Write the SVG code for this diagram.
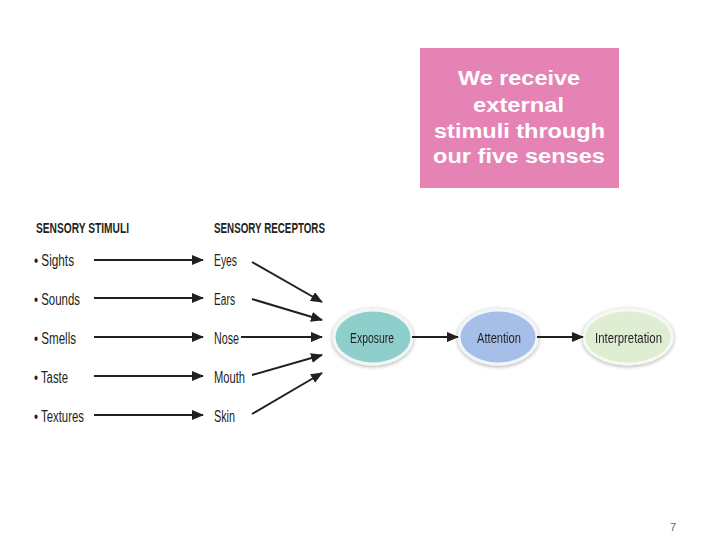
<svg xmlns="http://www.w3.org/2000/svg" width="720" height="540" viewBox="0 0 720 540">
<defs>
<style>
.t{font-family:"Liberation Sans",Arial,sans-serif;font-size:16px;fill:#231f20}
.h{font-family:"Liberation Sans",Arial,sans-serif;font-size:14px;font-weight:bold;fill:#231f20}
.c line{stroke:#231f20;stroke-width:2}
.n{font-family:"Liberation Sans",Arial,sans-serif;font-size:15px;fill:#231f20}
.p{font-family:"Liberation Sans",Arial,sans-serif;font-size:20px;font-weight:bold;fill:#ffffff}
</style>
<marker id="ah" markerWidth="12" markerHeight="10" refX="11" refY="5" orient="auto" markerUnits="userSpaceOnUse">
<path d="M0,0 L12,5 L0,10 Z" fill="#231f20"/>
</marker>
<filter id="glow" x="-20%" y="-30%" width="140%" height="160%">
<feGaussianBlur in="SourceAlpha" stdDeviation="2"/>
<feOffset dx="0" dy="1"/>
<feComponentTransfer><feFuncA type="linear" slope="0.35"/></feComponentTransfer>
<feMerge><feMergeNode/><feMergeNode in="SourceGraphic"/></feMerge>
</filter>
</defs>
<rect width="720" height="540" fill="#ffffff"/>
<g id="callout">
<rect x="420" y="48" width="199" height="140" fill="#e583b5"/>
<text class="p" x="458" y="85" textLength="122" lengthAdjust="spacingAndGlyphs">We receive</text>
<text class="p" x="473" y="112" textLength="91" lengthAdjust="spacingAndGlyphs">external</text>
<text class="p" x="434" y="138" textLength="171" lengthAdjust="spacingAndGlyphs">stimuli through</text>
<text class="p" x="433" y="163" textLength="172" lengthAdjust="spacingAndGlyphs">our five senses</text>
</g>
<g id="headers">
<text class="h" x="36" y="233" textLength="93" lengthAdjust="spacingAndGlyphs">SENSORY STIMULI</text>
<text class="h" x="214" y="233" textLength="111" lengthAdjust="spacingAndGlyphs">SENSORY RECEPTORS</text>
</g>
<g id="stimuli">
<text class="t" x="34" y="266" textLength="40" lengthAdjust="spacingAndGlyphs">• Sights</text>
<text class="t" x="34" y="305" textLength="46" lengthAdjust="spacingAndGlyphs">• Sounds</text>
<text class="t" x="34" y="344" textLength="42" lengthAdjust="spacingAndGlyphs">• Smells</text>
<text class="t" x="34" y="383" textLength="34" lengthAdjust="spacingAndGlyphs">• Taste</text>
<text class="t" x="34" y="422" textLength="50" lengthAdjust="spacingAndGlyphs">• Textures</text>
</g>
<g id="receptors">
<text class="t" x="214" y="266" textLength="23" lengthAdjust="spacingAndGlyphs">Eyes</text>
<text class="t" x="214" y="305" textLength="21" lengthAdjust="spacingAndGlyphs">Ears</text>
<text class="t" x="214" y="344" textLength="25" lengthAdjust="spacingAndGlyphs">Nose</text>
<text class="t" x="214" y="383" textLength="31" lengthAdjust="spacingAndGlyphs">Mouth</text>
<text class="t" x="214" y="422" textLength="21" lengthAdjust="spacingAndGlyphs">Skin</text>
</g>
<g id="exposure" filter="url(#glow)">
<ellipse cx="373" cy="337" rx="39" ry="27" fill="#8ecfcc" stroke="#f2f7f5" stroke-width="3"/>
<text class="n" x="350" y="343" textLength="44" lengthAdjust="spacingAndGlyphs">Exposure</text>
</g>
<g id="attention" filter="url(#glow)">
<ellipse cx="498" cy="337" rx="39" ry="27" fill="#a6bfe8" stroke="#f2f5fa" stroke-width="3"/>
<text class="n" x="477" y="343" textLength="44" lengthAdjust="spacingAndGlyphs">Attention</text>
</g>
<g id="interpretation" filter="url(#glow)">
<ellipse cx="628" cy="337" rx="44" ry="27" fill="#dfeed3" stroke="#f6f9f2" stroke-width="3"/>
<text class="n" x="595" y="343" textLength="67" lengthAdjust="spacingAndGlyphs">Interpretation</text>
</g>
<g class="c" id="connectors">
<line x1="94" y1="260" x2="203" y2="260" marker-end="url(#ah)"/>
<line x1="94" y1="298" x2="203" y2="298" marker-end="url(#ah)"/>
<line x1="94" y1="337" x2="203" y2="337" marker-end="url(#ah)"/>
<line x1="94" y1="376" x2="203" y2="376" marker-end="url(#ah)"/>
<line x1="94" y1="415" x2="203" y2="415" marker-end="url(#ah)"/>
<line x1="252" y1="262" x2="322" y2="302" marker-end="url(#ah)"/>
<line x1="252" y1="299" x2="322" y2="320" marker-end="url(#ah)"/>
<line x1="241" y1="337" x2="322" y2="337" marker-end="url(#ah)"/>
<line x1="252" y1="375" x2="322" y2="355" marker-end="url(#ah)"/>
<line x1="252" y1="414" x2="322" y2="373" marker-end="url(#ah)"/>
<line x1="412" y1="337" x2="458" y2="337" marker-end="url(#ah)"/>
<line x1="537" y1="337" x2="583" y2="337" marker-end="url(#ah)"/>
</g>
<text x="670" y="531" font-family="Liberation Sans,Arial,sans-serif" font-size="11" fill="#666666">7</text>
</svg>
